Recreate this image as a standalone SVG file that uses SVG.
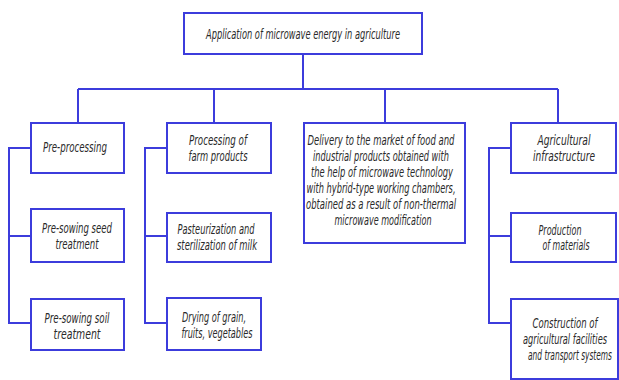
<svg xmlns="http://www.w3.org/2000/svg" width="619" height="380" viewBox="0 0 619 380">
<style>
.box{fill:#ffffff;stroke:#3c3cdc;stroke-width:2}
.ln{fill:none;stroke:#3c3cdc;stroke-width:2}
text{font-family:"DejaVu Sans Condensed","Liberation Sans Narrow","Liberation Sans",sans-serif;font-style:italic;font-size:14px;fill:#2a2a2a;text-anchor:middle}
</style>
<rect width="619" height="380" fill="#ffffff"/>
<g id="connectors">
<path class="ln" d="M303 54V89M78 89H558M78 89V123M214 89V123M385 89V123M558 89V123"/>
<path class="ln" d="M31 148H9V323H31M9 236H31"/>
<path class="ln" d="M167 148H145V323H167M145 236H167"/>
<path class="ln" d="M511 148H489V323H511M489 236H511"/>
</g>
<g id="root"><rect class="box" x="184" y="13" width="238" height="41"/><text x="303" y="39" textLength="194" lengthAdjust="spacingAndGlyphs">Application of microwave energy in agriculture</text></g>
<g id="preprocessing"><rect class="box" x="31" y="123" width="93" height="50"/><text x="75" y="152" textLength="64" lengthAdjust="spacingAndGlyphs">Pre-processing</text></g>
<g id="seed"><rect class="box" x="31" y="209" width="93" height="53"/><text x="77" y="233" textLength="70" lengthAdjust="spacingAndGlyphs">Pre-sowing seed</text><text x="77" y="249" textLength="43" lengthAdjust="spacingAndGlyphs">treatment</text></g>
<g id="soil"><rect class="box" x="31" y="299" width="93" height="51"/><text x="77" y="323" textLength="65" lengthAdjust="spacingAndGlyphs">Pre-sowing soil</text><text x="77" y="339" textLength="47" lengthAdjust="spacingAndGlyphs">treatment</text></g>
<g id="farm"><rect class="box" x="167" y="123" width="104" height="50"/><text x="218" y="145" textLength="58" lengthAdjust="spacingAndGlyphs">Processing of</text><text x="218" y="161" textLength="59" lengthAdjust="spacingAndGlyphs">farm products</text></g>
<g id="milk"><rect class="box" x="167" y="213" width="104" height="49"/><text x="216" y="234" textLength="77" lengthAdjust="spacingAndGlyphs">Pasteurization and</text><text x="217" y="250" textLength="80" lengthAdjust="spacingAndGlyphs">sterilization of milk</text></g>
<g id="drying"><rect class="box" x="167" y="298" width="94" height="52"/><text x="214" y="322" textLength="64" lengthAdjust="spacingAndGlyphs">Drying of grain,</text><text x="217" y="338" textLength="71" lengthAdjust="spacingAndGlyphs">fruits, vegetables</text></g>
<g id="delivery"><rect class="box" x="304" y="123" width="161" height="120"/>
<text x="381" y="145" textLength="147" lengthAdjust="spacingAndGlyphs">Delivery to the market of food and</text>
<text x="381" y="161" textLength="136" lengthAdjust="spacingAndGlyphs">industrial products obtained with</text>
<text x="382" y="177" textLength="142" lengthAdjust="spacingAndGlyphs">the help of microwave technology</text>
<text x="381" y="193" textLength="149" lengthAdjust="spacingAndGlyphs">with hybrid-type working chambers,</text>
<text x="381" y="209" textLength="150" lengthAdjust="spacingAndGlyphs">obtained as a result of non-thermal</text>
<text x="383" y="225" textLength="97" lengthAdjust="spacingAndGlyphs">microwave modification</text></g>
<g id="infrastructure"><rect class="box" x="511" y="123" width="105" height="50"/><text x="564" y="145" textLength="53" lengthAdjust="spacingAndGlyphs">Agricultural</text><text x="564" y="161" textLength="62" lengthAdjust="spacingAndGlyphs">infrastructure</text></g>
<g id="materials"><rect class="box" x="511" y="213" width="105" height="49"/><text x="560" y="235" textLength="43" lengthAdjust="spacingAndGlyphs">Production</text><text x="566" y="250" textLength="47" lengthAdjust="spacingAndGlyphs">of materials</text></g>
<g id="construction"><rect class="box" x="511" y="299" width="107" height="80"/><text x="565" y="328" textLength="65" lengthAdjust="spacingAndGlyphs">Construction of</text><text x="565" y="344" textLength="84" lengthAdjust="spacingAndGlyphs">agricultural facilities</text><text x="570" y="360" textLength="84" lengthAdjust="spacingAndGlyphs">and transport systems</text></g>
</svg>
